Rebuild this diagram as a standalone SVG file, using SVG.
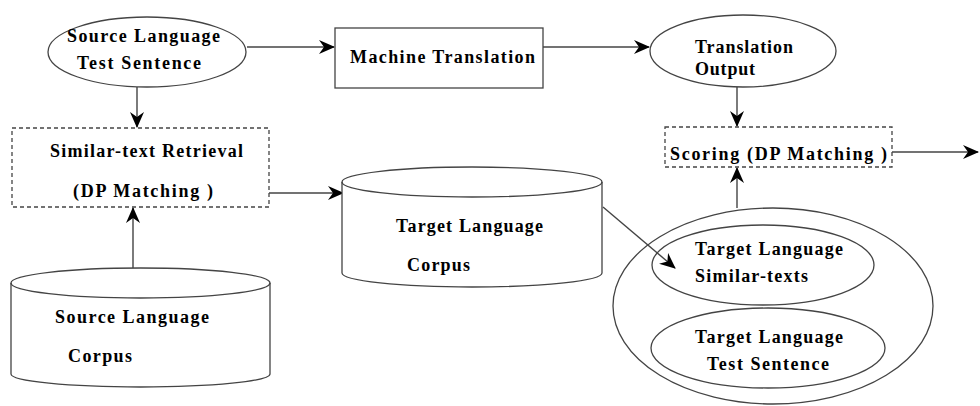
<svg xmlns="http://www.w3.org/2000/svg" width="980" height="406" viewBox="0 0 980 406">
<defs>
<marker id="arr" markerUnits="userSpaceOnUse" markerWidth="18" markerHeight="16" refX="15" refY="7" orient="auto" overflow="visible">
<path d="M0,0 L16,7 L0,14 L5,7 Z" fill="#000"/>
</marker>
<style>
.ln{stroke:#444;stroke-width:1.4;fill:none}
.sh{stroke:#444;stroke-width:1.3;fill:#fff}
.ds{stroke:#444;stroke-width:1.3;fill:#fff;stroke-dasharray:4 3}
</style>
</defs>
<rect width="980" height="406" fill="#fff"/>
<g id="connectors">
<line class="ln" x1="247" y1="47" x2="334" y2="47" marker-end="url(#arr)"/>
<line class="ln" x1="543" y1="47" x2="649" y2="47" marker-end="url(#arr)"/>
<line class="ln" x1="137" y1="87" x2="137" y2="127" marker-end="url(#arr)"/>
<line class="ln" x1="737" y1="87" x2="737" y2="126" marker-end="url(#arr)"/>
<line class="ln" x1="133" y1="268" x2="133" y2="208" marker-end="url(#arr)"/>
<line class="ln" x1="269" y1="193" x2="343" y2="193" marker-end="url(#arr)"/>
<line class="ln" x1="892" y1="152" x2="978" y2="152" marker-end="url(#arr)"/>
<line class="ln" x1="737" y1="208" x2="737" y2="168" marker-end="url(#arr)"/>
</g>
<g font-family="Liberation Serif, serif" font-weight="bold" font-size="18" fill="#000">
<g id="src-test">
<ellipse class="sh" cx="147" cy="52" rx="99" ry="35"/>
<text x="67" y="42" textLength="153" lengthAdjust="spacing">Source Language</text>
<text x="77" y="69" textLength="124" lengthAdjust="spacing">Test Sentence</text>
</g>
<g id="mt">
<rect class="sh" x="335" y="28" width="208" height="60"/>
<text x="350" y="63" textLength="185" lengthAdjust="spacing">Machine Translation</text>
</g>
<g id="tr-out">
<ellipse class="sh" cx="743" cy="51" rx="93" ry="36"/>
<text x="695" y="53" textLength="98" lengthAdjust="spacing">Translation</text>
<text x="695" y="75" textLength="60" lengthAdjust="spacing">Output</text>
</g>
<g id="retrieval">
<rect class="ds" x="12" y="128" width="257" height="79"/>
<text x="50" y="157" textLength="193" lengthAdjust="spacing">Similar-text Retrieval</text>
<text x="73" y="197" textLength="140" lengthAdjust="spacing">(DP Matching )</text>
</g>
<g id="scoring">
<rect class="ds" x="665" y="127" width="227" height="40"/>
<text x="670" y="160" textLength="217" lengthAdjust="spacing">Scoring (DP Matching )</text>
</g>
<g id="tgt-corpus">
<path class="sh" d="M342,182 A130,15 0 0 1 602,182 L602,273 A130,14 0 0 1 342,273 Z"/>
<path class="ln" d="M342,182 A130,15 0 0 0 602,182"/>
<text x="396" y="232" textLength="147" lengthAdjust="spacing">Target Language</text>
<text x="407" y="271" textLength="63" lengthAdjust="spacing">Corpus</text>
</g>
<g id="src-corpus">
<path class="sh" d="M11,283 A129.5,15 0 0 1 270,283 L270,374 A129.5,13 0 0 1 11,374 Z"/>
<path class="ln" d="M11,283 A129.5,15 0 0 0 270,283"/>
<text x="55" y="323" textLength="154" lengthAdjust="spacing">Source Language</text>
<text x="68" y="362" textLength="64" lengthAdjust="spacing">Corpus</text>
</g>
<g id="tgt-set">
<ellipse class="sh" cx="773" cy="306" rx="160" ry="98"/>
<g id="tgt-similar">
<ellipse class="sh" cx="763" cy="265" rx="111" ry="40"/>
<text x="695" y="255" textLength="148" lengthAdjust="spacing">Target Language</text>
<text x="695" y="282" textLength="113" lengthAdjust="spacing">Similar-texts</text>
</g>
<g id="tgt-test">
<ellipse class="sh" cx="768" cy="348" rx="117" ry="40"/>
<text x="695" y="343" textLength="148" lengthAdjust="spacing">Target Language</text>
<text x="707" y="370" textLength="122" lengthAdjust="spacing">Test Sentence</text>
</g>
</g>
</g>
<g id="connectors-2">
<line class="ln" x1="603" y1="207" x2="675" y2="268" stroke-width="1" marker-end="url(#arr)"/>
</g>
</svg>
